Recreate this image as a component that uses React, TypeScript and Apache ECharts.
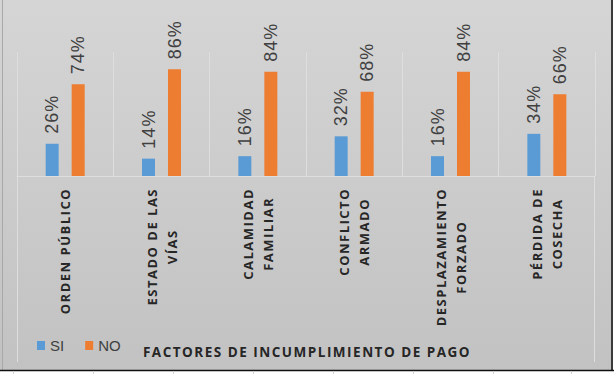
import React, { useEffect, useRef } from "react";
import * as echarts from "echarts";

const categories = [
  "ORDEN PÚBLICO",
  "ESTADO DE LAS\nVÍAS",
  "CALAMIDAD\nFAMILIAR",
  "CONFLICTO\nARMADO",
  "DESPLAZAMIENTO\nFORZADO",
  "PÉRDIDA DE\nCOSECHA",
];
const siValues = [0.26, 0.14, 0.16, 0.32, 0.16, 0.34];
const noValues = [0.74, 0.86, 0.84, 0.68, 0.84, 0.66];
const seriesNames = ["SI", "NO"];
const axisTitle = "FACTORES DE INCUMPLIMIENTO DE PAGO";

const LABEL_FONT = "'Open Sans', sans-serif";
const VALUE_FONT = "'Liberation Sans', Arial, sans-serif";
const TEXT_COLOR = "#262626";
const LINE_COLOR = "#dedede";
const LABEL_SPACING = 1.5;

const css = `
#chart svg text[style*="bold"], #chart svg text[font-weight="bold"] { letter-spacing: ${LABEL_SPACING}px; }
#chart svg text[style*="18px"], #chart svg text[font-size="18px"], #chart svg text[font-size="18"] { letter-spacing: 1px; }
`;

export default function App() {
  const ref = useRef<HTMLDivElement>(null);
  useEffect(() => {
    if (!ref.current) return;
    const chart = echarts.init(ref.current, undefined, { renderer: "svg" });
    const valueLabel = {
      show: true,
      position: "top",
      rotate: 90,
      align: "left",
      verticalAlign: "middle",
      distance: 10,
      fontFamily: VALUE_FONT,
      fontSize: 18,
      color: "#404040",
      formatter: (p: any) => "{v|" + Math.round(p.value * 100) + "%}",
      rich: {
        v: {
          fontFamily: VALUE_FONT,
          fontSize: 18,
          color: "#404040",
        },
      },
    };
    // compensate the CSS letter-spacing so each label still starts at the axis margin
    const axisData = categories.map((c) => {
      const longest = Math.max(...c.split("\n").map((l) => l.length));
      return { value: c, textStyle: { padding: [0, (longest * LABEL_SPACING) / 2, 0, 0] } };
    });
    const cellLines = [13, 93, 173, 253, 333, 413, 493, 571].map((x) => ({
      type: "line",
      z: 5,
      shape: { x1: x + 0.5, y1: 371, x2: x + 0.5, y2: 374 },
      style: { stroke: "#d0d0d0", lineWidth: 1 },
    }));
    chart.setOption({
      animation: false,
      backgroundColor: "#ffffff",
      grid: { left: 17, right: 19, top: 52, bottom: 198 },
      legend: {
        left: 32,
        top: 333,
        itemWidth: 8,
        itemHeight: 9,
        itemGap: 21,
        icon: "rect",
        textStyle: { fontFamily: VALUE_FONT, fontSize: 15, color: "#404040" },
        data: seriesNames,
      },
      xAxis: {
        type: "category",
        data: axisData,
        axisLine: { show: true, lineStyle: { color: LINE_COLOR, width: 1 } },
        axisTick: { show: false },
        splitLine: { show: true, interval: 0, lineStyle: { color: LINE_COLOR, width: 1 } },
        axisLabel: {
          interval: 0,
          rotate: 90,
          margin: 12,
          formatter: (v: string) =>
            v
              .split("\n")
              .map((l) => "{c|" + l + "}")
              .join("\n"),
          rich: {
            c: {
              align: "center",
              fontFamily: LABEL_FONT,
              fontWeight: "bold",
              fontSize: 13,
              lineHeight: 20,
              color: TEXT_COLOR,
            },
          },
        },
      },
      yAxis: {
        type: "value",
        min: 0,
        max: 1,
        show: false,
        splitLine: { show: false },
      },
      series: [
        {
          name: seriesNames[0],
          type: "bar",
          data: siValues,
          barWidth: 13,
          barGap: "100%",
          itemStyle: { color: "#5b9bd5" },
          label: valueLabel,
        },
        {
          name: seriesNames[1],
          type: "bar",
          data: noValues,
          barWidth: 13,
          itemStyle: { color: "#ed7d31" },
          label: valueLabel,
        },
      ],
      graphic: [
        {
          type: "rect",
          z: -10,
          shape: { x: 0, y: 0, width: 612, height: 371 },
          style: {
            fill: new echarts.graphic.LinearGradient(0, 0, 0, 1, [
              { offset: 0, color: "#d5d5d5" },
              { offset: 1, color: "#c2c2c2" },
            ]),
          },
        },
        {
          type: "line",
          z: 5,
          shape: { x1: 2.5, y1: 0, x2: 2.5, y2: 371 },
          style: { stroke: "#a8a8a8", lineWidth: 1 },
        },
        {
          type: "line",
          z: 5,
          shape: { x1: 612, y1: 0, x2: 612, y2: 371 },
          style: { stroke: "#3a3a3a", lineWidth: 2 },
        },
        {
          type: "line",
          z: 5,
          shape: { x1: 0, y1: 370.5, x2: 614, y2: 370.5 },
          style: { stroke: "#111111", lineWidth: 1.5 },
        },
        ...cellLines,
        {
          type: "line",
          z: 1,
          shape: { x1: 17.5, y1: 176, x2: 17.5, y2: 362 },
          style: { stroke: LINE_COLOR, lineWidth: 1 },
        },
        {
          type: "line",
          z: 1,
          shape: { x1: 594.5, y1: 176, x2: 594.5, y2: 362 },
          style: { stroke: LINE_COLOR, lineWidth: 1 },
        },
        {
          type: "text",
          z: 5,
          x: 307,
          y: 352,
          style: {
            text: axisTitle,
            fontFamily: LABEL_FONT,
            fontWeight: "bold",
            fontSize: 13.5,
            fill: TEXT_COLOR,
            align: "center",
            verticalAlign: "middle",
          },
        },
      ],
    });
    return () => chart.dispose();
  }, []);
  return (
    <>
      <style>{css}</style>
      <div
        id="chart"
        ref={ref}
        style={{ position: "fixed", left: 0, top: 0, width: 614, height: 374 }}
      />
    </>
  );
}
